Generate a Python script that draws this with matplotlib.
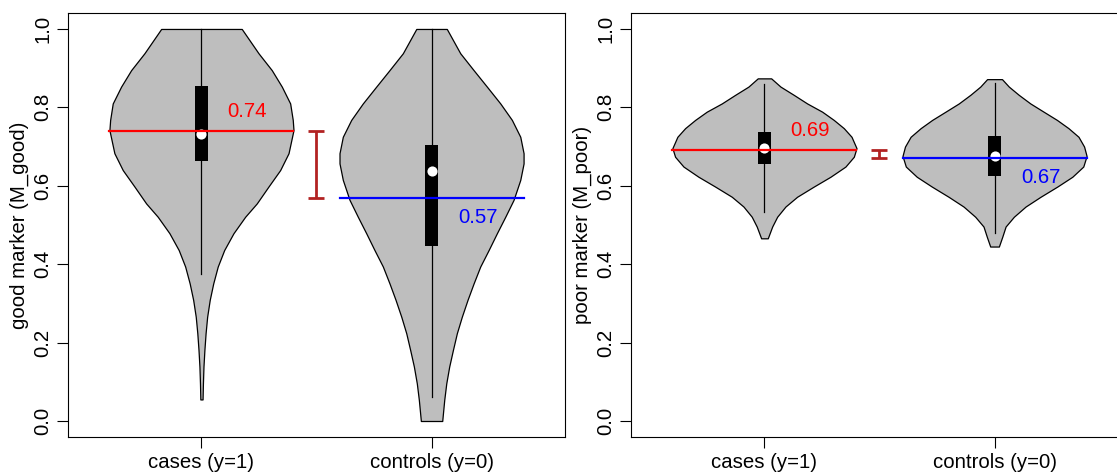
import matplotlib
matplotlib.use("Agg")
import matplotlib.pyplot as plt
from matplotlib.patches import Rectangle

plt.rcParams["font.family"] = ["Liberation Sans", "DejaVu Sans"]
plt.rcParams["font.size"] = 14.7

groups = ["cases (y=1)", "controls (y=0)"]

# density outlines: levels and relative half-widths (max = 1)
good_cases_y = [0.055, 0.096, 0.139, 0.181, 0.224, 0.266, 0.309, 0.351, 0.394, 0.436, 0.479,
                0.521, 0.555, 0.598, 0.640, 0.683, 0.742, 0.768, 0.810, 0.853, 0.895, 0.938, 1.0]
good_cases_w = [0.012, 0.016, 0.022, 0.032, 0.045, 0.062, 0.09, 0.128, 0.177, 0.247, 0.348,
                0.475, 0.601, 0.728, 0.855, 0.946, 1.0, 0.992, 0.964, 0.873, 0.764, 0.62, 0.438]
good_ctrl_y = [0.0, 0.054, 0.096, 0.139, 0.181, 0.224, 0.266, 0.309, 0.351, 0.394, 0.436, 0.479,
               0.521, 0.564, 0.615, 0.657, 0.683, 0.725, 0.768, 0.810, 0.853, 0.895, 0.938, 1.0]
good_ctrl_w = [0.116, 0.138, 0.16, 0.192, 0.232, 0.275, 0.329, 0.391, 0.457, 0.529, 0.62, 0.71,
               0.801, 0.891, 0.964, 1.0, 1.0, 0.964, 0.873, 0.747, 0.601, 0.457, 0.312, 0.166]
poor_cases_y = [0.466, 0.496, 0.521, 0.547, 0.572, 0.598, 0.623, 0.649, 0.674, 0.696, 0.725,
                0.747, 0.768, 0.789, 0.810, 0.832, 0.853, 0.874]
poor_cases_w = [0.036, 0.084, 0.138, 0.228, 0.355, 0.536, 0.717, 0.88, 0.971, 1.0, 0.946,
                0.862, 0.753, 0.627, 0.464, 0.318, 0.174, 0.073]
poor_ctrl_y = [0.445, 0.470, 0.496, 0.521, 0.547, 0.572, 0.598, 0.623, 0.649, 0.676, 0.700,
               0.725, 0.747, 0.768, 0.789, 0.810, 0.832, 0.853, 0.872]
poor_ctrl_w = [0.047, 0.084, 0.12, 0.21, 0.337, 0.5, 0.682, 0.845, 0.964, 1.0, 0.973,
               0.912, 0.803, 0.678, 0.533, 0.389, 0.263, 0.155, 0.081]

# box stats: whisker low, q1, median, q3, whisker high
good_stats = [[0.375, 0.662, 0.732, 0.854, 1.0], [0.062, 0.447, 0.638, 0.704, 1.0]]
poor_stats = [[0.534, 0.655, 0.696, 0.738, 0.860], [0.479, 0.625, 0.676, 0.727, 0.861]]

good_means = [0.74, 0.57]
poor_means = [0.69, 0.67]


def draw_panel(ax, shapes, stats, means, ylabel):
    for i, (ys, ws) in enumerate(shapes):
        pos = i + 1
        half = [0.4 * w for w in ws]
        ax.fill_betweenx(ys, [pos - h for h in half], [pos + h for h in half],
                         facecolor="#BEBEBE", edgecolor="black", linewidth=0.9, zorder=1)
        lo, q1, med, q3, hi = stats[i]
        ax.plot([pos, pos], [lo, hi], color="black", linewidth=0.9, zorder=2)
        ax.add_patch(Rectangle((pos - 0.027, q1), 0.054, q3 - q1, facecolor="black",
                               edgecolor="none", zorder=3))
        ax.plot(pos, med, "o", color="white", markersize=7.3, markeredgewidth=0, zorder=4)
        col = "red" if i == 0 else "blue"
        ax.plot([pos - 0.4, pos + 0.4], [means[i], means[i]], color=col, linewidth=1.6, zorder=5)
        off = 0.05 if i == 0 else -0.05
        ax.text(pos + 0.2, means[i] + off, f"{means[i]:.2f}", color=col,
                ha="center", va="center")
    ax.errorbar([1.5], [(means[0] + means[1]) / 2], yerr=[abs(means[0] - means[1]) / 2],
                color="#B22222", linewidth=2, capsize=6, capthick=2, fmt="none")

    ax.set_xlim(0.42, 2.58)
    ax.set_ylim(-0.04, 1.04)
    ax.set_xticks([1, 2])
    ax.set_xticklabels(groups)
    ax.set_yticks([0, 0.2, 0.4, 0.6, 0.8, 1.0])
    ax.set_yticklabels([f"{v:.1f}" for v in [0, 0.2, 0.4, 0.6, 0.8, 1.0]])
    ax.tick_params(axis="both", direction="out", length=8, width=0.8, colors="black")
    ax.tick_params(axis="x", pad=4)
    ax.tick_params(axis="y", pad=3, labelrotation=90)
    for lab in ax.get_yticklabels():
        lab.set_va("center")
    for s in ax.spines.values():
        s.set_linewidth(0.8)
    ax.set_ylabel(ylabel, va="center")
    ax.yaxis.set_label_coords(-0.097, 0.5)


fig = plt.figure(figsize=(11.17, 4.76), dpi=100)
ax1 = fig.add_axes([68 / 1117, 0.0826, 497 / 1117, 0.8895])
ax2 = fig.add_axes([631 / 1117, 0.0826, 497 / 1117, 0.8895])

draw_panel(ax1, [(good_cases_y, good_cases_w), (good_ctrl_y, good_ctrl_w)],
           good_stats, good_means, "good marker (M_good)")
draw_panel(ax2, [(poor_cases_y, poor_cases_w), (poor_ctrl_y, poor_ctrl_w)],
           poor_stats, poor_means, "poor marker (M_poor)")

fig.savefig("out.png", dpi=100)
